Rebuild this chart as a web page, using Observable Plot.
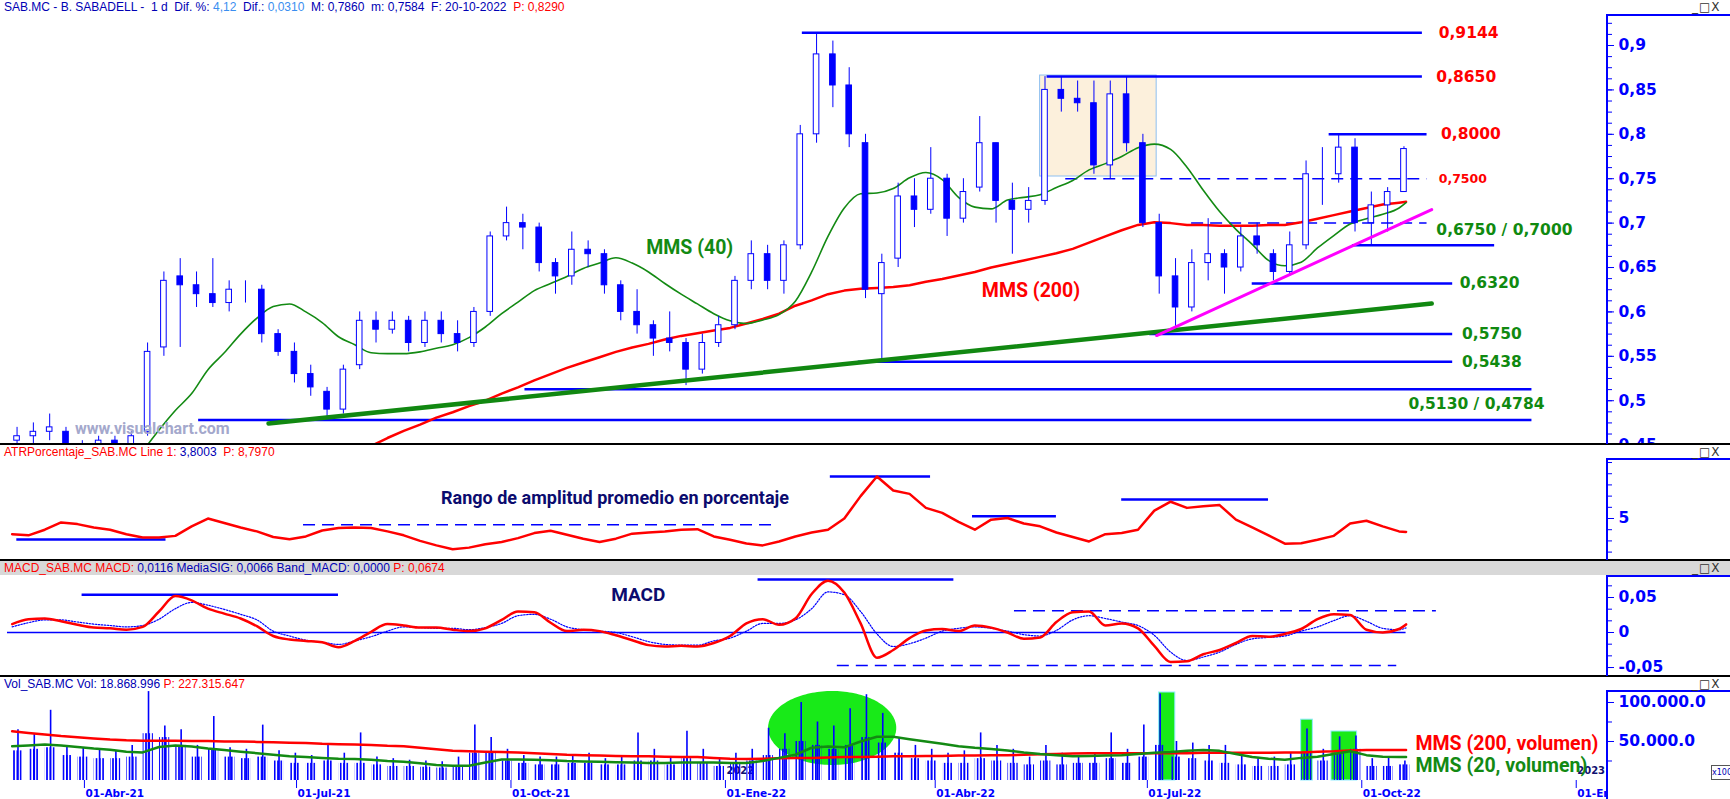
<!DOCTYPE html>
<html><head><meta charset="utf-8">
<script src="https://cdn.jsdelivr.net/npm/d3@7"></script>
<script src="https://cdn.jsdelivr.net/npm/@observablehq/plot@0.6"></script>
<style>
html,body{margin:0;padding:0;background:#fff;}
#wrap{position:relative;width:1730px;height:799px;overflow:hidden;background:#fff;}
.panel{position:absolute;left:0;width:1730px;}
.panel svg{display:block;}
.ov{position:absolute;z-index:5;}
.sep{left:0;width:1730px;height:2px;background:#000;}
.vax{left:1606px;width:2px;background:#0000ff;}
.hax{left:1606px;width:124px;height:2px;background:#0000ff;}
.hdr{left:4px;font:12px "Liberation Sans",Arial,sans-serif;white-space:pre;line-height:13px;}
.win{left:1692px;font:12px "DejaVu Sans",sans-serif;color:#333;letter-spacing:1px;line-height:12px;}
.nb{color:#0000b4}.lb{color:#3a8ef0}.rd{color:#ff0000}
</style></head><body>
<div id="wrap">
 <div id="p1" class="panel" style="top:0"></div>
 <div id="p2" class="panel" style="top:444px"></div>
 <div id="p3" class="panel" style="top:560px"></div>
 <div id="p4" class="panel" style="top:676px"></div>
 <div class="ov" style="left:0;top:561px;width:1730px;height:14px;background:#d8d8d8"></div>
 <div class="ov sep" style="top:443px"></div>
 <div class="ov sep" style="top:559px"></div>
 <div class="ov sep" style="top:675px"></div>
 <div class="ov vax" style="top:15px;height:429px"></div>
 <div class="ov hax" style="top:14px"></div>
 <div class="ov vax" style="top:459px;height:101px"></div>
 <div class="ov hax" style="top:458px"></div>
 <div class="ov vax" style="top:576px;height:100px"></div>
 <div class="ov hax" style="top:575px"></div>
 <div class="ov vax" style="top:691px;height:108px"></div>
 <div class="ov hax" style="top:690px"></div>
 <div class="ov hdr" style="top:1px"><span class="nb">SAB.MC - B. SABADELL -  1 d  Dif. %: </span><span class="lb">4,12</span><span class="nb">  Dif.: </span><span class="lb">0,0310</span><span class="nb">  M: 0,7860  m: 0,7584  F: 20-10-2022  </span><span class="rd">P: 0,8290</span></div>
 <div class="ov hdr" style="top:446px"><span class="rd">ATRPorcentaje_SAB.MC Line 1: </span><span class="nb">3,8003</span><span class="rd">  P: 8,7970</span></div>
 <div class="ov hdr" style="top:562px"><span class="rd">MACD_SAB.MC MACD: </span><span class="nb">0,0116 MediaSIG: 0,0066 Band_MACD: 0,0000 </span><span class="rd">P: 0,0674</span></div>
 <div class="ov hdr" style="top:678px"><span class="nb">Vol_SAB.MC Vol: 18.868.996 </span><span class="rd">P: 227.315.647</span></div>
 <div class="ov win" style="top:1px">_□X</div>
 <div class="ov win" style="top:446px">_□X</div>
 <div class="ov win" style="top:562px">_□X</div>
 <div class="ov win" style="top:678px">_□X</div>
 <div class="ov" style="left:1711px;top:765px;width:18px;height:13px;border:1px solid #555;font:8px 'DejaVu Sans',sans-serif;color:#0000b4;line-height:13px;text-align:center;background:#fff">x100</div>
</div>
<script>
// ---------------- DATA ----------------
const weeks = d3.utcMonday.range(new Date("2021-03-01T00:00Z"), new Date("2022-10-18T00:00Z")); // 86 weekly candles
const lastDay = new Date("2022-10-20T00:00Z");
const lineDates = [...weeks, lastDay];

const openP = [.455,.46,.465,.465,.445,.45,.455,.45,.465,.56,
 .64,.63,.62,.61,.625,.625,.575,.555,.53,.51,
 .49,.54,.59,.58,.59,.565,.59,.575,.565,.60,
 .685,.70,.695,.655,.64,.67,.665,.63,.60,.585,
 .57,.565,.535,.565,.585,.635,.665,.635,.675,.80,
 .89,.855,.79,.62,.66,.73,.715,.75,.705,.74,
 .79,.725,.715,.725,.85,.84,.835,.765,.845,.79,
 .70,.64,.605,.655,.665,.65,.685,.665,.645,.675,
 .755,.755,.785,.70,.72,.735];
const highP = [.47,.475,.485,.47,.455,.46,.46,.465,.565,.645,
 .66,.645,.66,.635,.635,.63,.58,.565,.54,.515,
 .54,.60,.60,.60,.595,.60,.60,.59,.605,.69,
 .718,.71,.70,.66,.69,.68,.67,.635,.625,.59,
 .60,.57,.575,.595,.64,.68,.675,.68,.81,.914,
 .905,.875,.80,.665,.745,.75,.785,.755,.75,.82,
 .79,.745,.74,.865,.865,.86,.86,.86,.865,.80,
 .71,.66,.67,.705,.67,.695,.70,.67,.69,.77,
 .785,.80,.795,.735,.74,.786];
const lowP = [.445,.45,.455,.44,.435,.44,.445,.445,.46,.55,
 .56,.605,.605,.60,.61,.565,.55,.52,.505,.482,
 .485,.535,.565,.575,.555,.56,.565,.555,.56,.595,
 .68,.67,.645,.62,.63,.65,.62,.59,.575,.55,
 .555,.517,.53,.56,.58,.625,.625,.62,.67,.79,
 .83,.785,.615,.545,.65,.695,.71,.685,.70,.735,
 .70,.665,.70,.72,.825,.825,.755,.75,.78,.695,
 .62,.578,.60,.635,.62,.645,.665,.635,.64,.67,
 .72,.745,.69,.675,.69,.7584];
const closeP = [.46,.465,.47,.445,.45,.455,.45,.46,.555,.635,
 .63,.62,.61,.625,.625,.575,.555,.53,.515,.49,
 .535,.59,.58,.59,.565,.59,.575,.565,.60,.685,
 .70,.695,.655,.64,.67,.665,.63,.60,.585,.57,
 .565,.535,.565,.585,.635,.665,.635,.675,.80,.89,
 .855,.80,.625,.655,.73,.715,.75,.705,.735,.79,
 .725,.715,.725,.85,.84,.835,.765,.845,.79,.70,
 .64,.605,.655,.665,.65,.685,.675,.645,.675,.755,
 .755,.785,.70,.72,.735,.7834];

const N = null;
const mms40 = [N,N,N,N,N,N,N,N,.443,.467,
 .489,.508,.535,.554,.575,.593,.606,.609,.600,.588,
 .572,.563,.554,.553,.553,.555,.559,.563,.571,.583,
 .598,.611,.624,.632,.640,.649,.655,.661,.655,.645,
 .632,.620,.609,.598,.590,.587,.591,.597,.612,.645,
 .685,.717,.733,.734,.739,.751,.757,.749,.729,.718,
 .716,.726,.729,.732,.740,.748,.760,.767,.775,.785,
 .789,.783,.763,.737,.713,.693,.676,.658,.652,.656,
 .672,.686,.699,.705,.710,.717,.723];
const mms200 = [N,N,N,N,N,N,N,N,N,N,
 N,N,N,N,N,N,N,N,N,N,
 N,.442,.449,.458,.466,.473,.481,.487,.494,.500,
 .508,.515,.523,.530,.537,.543,.549,.555,.560,.564,
 .569,.573,.576,.579,.582,.587,.592,.598,.607,.613,
 .620,.624,.626,.627,.628,.630,.634,.637,.641,.645,
 .650,.654,.658,.662,.666,.671,.678,.685,.692,.698,
 .701,.700,.698,.698,.697,.697,.697,.698,.698,.701,
 .705,.709,.713,.717,.721,.723,.724];
const atrPct = [3.6,3.5,4.0,4.65,4.5,4.2,4.0,3.6,3.3,3.3,
 3.45,4.3,5.0,4.6,4.2,3.85,3.35,3.15,3.4,3.93,
 4.15,4.2,4.15,3.85,3.5,3.0,2.6,2.25,2.4,2.7,
 2.9,3.25,3.7,3.9,3.55,3.2,2.9,3.2,3.65,3.75,
 3.85,4.0,4.05,3.4,3.1,2.77,2.6,2.95,3.4,3.75,
 4.0,5.0,7.0,8.75,7.5,7.2,5.95,5.5,4.7,4.0,
 4.9,5.05,4.55,4.3,3.75,3.35,2.95,3.6,3.7,4.0,
 5.7,6.5,5.95,6.1,6.2,4.9,4.2,3.5,2.75,2.8,
 3.1,3.45,4.55,4.8,4.3,3.85,3.8];
const macdVals = [.012,.019,.020,.016,.011,.007,.006,.004,.008,.030,
 .052,.046,.034,.027,.020,.009,-.005,-.010,-.012,-.014,
 -.021,-.012,.001,.012,.010,.007,.007,.004,.002,.006,
 .018,.030,.029,.014,.002,.004,.002,-.004,-.011,-.018,
 -.020,-.019,-.020,-.015,-.005,.013,.019,.011,.020,.055,
 .074,.057,.013,-.036,-.025,-.008,.003,.005,.002,.010,
 .007,.000,-.009,-.007,.015,.029,.030,.010,.013,.006,
 -.019,-.042,-.041,-.031,-.025,-.015,-.005,-.006,-.002,.005,
 .019,.026,.025,.004,.000,.005,.0116];
const macdSignal = [.008,.014,.018,.018,.015,.012,.010,.008,.010,.019,
 .034,.043,.039,.033,.026,.018,.002,-.005,-.011,-.014,
 -.017,-.012,-.006,.002,.008,.007,.006,.006,.004,.007,
 .013,.024,.026,.019,.008,.004,.002,.000,-.006,-.013,
 -.017,-.018,-.018,-.012,-.008,.002,.013,.013,.018,.034,
 .058,.054,.030,-.002,-.020,-.016,-.008,.002,.006,.008,
 .006,.002,-.003,-.005,.003,.018,.024,.020,.015,.010,
 -.004,-.028,-.040,-.035,-.028,-.017,-.009,-.007,-.005,.002,
 .008,.017,.024,.016,.006,.004,.0066];
// volume in thousands (axis unit 100.000.0 = 100)
const volTypical = [38,40,42,32,30,28,28,30,60,55,
 45,30,40,30,28,30,25,22,22,25,
 22,22,20,18,18,17,16,18,35,35,
 25,22,20,20,22,22,20,20,25,25,
 20,28,22,18,22,25,32,40,50,45,
 40,45,55,48,35,28,25,22,22,28,
 25,22,20,25,20,22,22,28,22,30,
 45,30,28,25,22,20,18,18,20,35,
 25,35,40,18,18,20];
const volPeak = [65,60,90,45,42,40,38,45,114,70,
 65,45,82,42,40,71,38,35,32,45,
 35,61,30,28,26,25,24,30,71,55,
 40,32,30,30,32,35,28,30,61,40,
 30,63,40,28,35,40,67,60,100,75,
 70,92,110,86,55,45,40,35,38,61,
 45,40,30,45,35,32,35,61,40,71,
 111,50,48,45,45,32,28,30,35,66,
 40,56,57,28,30,25];
const volMA200 = [63,61,59,57,55.5,54,52.5,51.5,51,51,
 51,50.5,50.5,50,50,49.5,49,48.5,48,47,
 46.5,46,45.5,44.5,44,42,40,38,37.5,37,
 36.5,36,35,34,33,32.5,32,31.5,31,31,
 30.5,30,30,29,28,27.5,28,28.5,29,29,
 29.5,30,30,30.5,31,31,31.5,31.5,32,32,
 32.5,32.5,33,33.5,34,34.5,35,35,35,35,
 35,35,35,35.5,35.5,35.5,35.5,35.5,36,36,
 37,37.5,38.5,39,39,39,39];
const volMA20 = [44,45,46,45,43,41,39.5,37,36,43,
 45,43.5,41,39,37,35,33,31,30,29,
 28,27.5,26.5,25,24,22,20,19,19,23,
 27,27,26.5,26,25,24.5,24,23.5,23,22.5,
 22.5,23,23,23,22.5,22.5,25,29,33,42,
 43.5,42.5,50,56,56,53,50,47,44,42,
 40.5,38.5,36,34,32.5,31,31.5,32,32.5,34,
 35.5,36.5,38,39,38,34,30,28,26.5,29,
 30.5,34,37.5,32.5,30.5,30,30];

// support / resistance levels
const levelVals   = [0.9144,0.8650,0.8000,0.7500,0.7000,0.6750,0.6320,0.5750,0.5438,0.5130,0.4784];
const levelFrom   = ["2022-02-03","2022-05-19","2022-09-17","2022-05-27","2022-07-20","2022-09-27","2022-08-15","2022-07-02","2022-02-27","2021-10-07","2021-05-20"];
const levelTo     = ["2022-10-27","2022-10-27","2022-10-29","2022-10-29","2022-10-29","2022-11-27","2022-11-09","2022-11-09","2022-11-09","2022-12-13","2022-12-13"];
const levelDashed = [false,false,false,true,true,false,false,false,false,false,false];
const levelLabelText  = ["0,9144","0,8650","0,8000","0,7500","0,6750 / 0,7000","0,6320","0,5750","0,5438","0,5130 / 0,4784"];
const levelLabelValue = [0.9144,0.8650,0.8000,0.7500,0.6917,0.6330,0.5750,0.5438,0.4968];
const levelLabelDate  = ["2022-11-03","2022-11-02","2022-11-04","2022-11-03","2022-11-02","2022-11-12","2022-11-13","2022-11-13","2022-10-21"];
const levelLabelColor = ["#ff0000","#ff0000","#ff0000","#ff0000","#108a10","#108a10","#108a10","#108a10","#108a10"];
const levelLabelSmall = [false,false,false,true,false,false,false,false,false];

const greenTrend   = {dates:["2021-06-19","2022-10-31"], values:[0.4743,0.6095]};
const magentaTrend = {dates:["2022-07-05","2022-10-31"], values:[0.5734,0.7153]};
const shadedBox = {from:"2022-05-16", to:"2022-07-05", lo:0.7525, hi:0.8662};

const atrLevelVal  = [3.13,4.45,8.75,5.2,6.7];
const atrLevelFrom = ["2021-03-03","2021-07-04","2022-02-15","2022-04-17","2022-06-20"];
const atrLevelTo   = ["2021-05-06","2022-01-22","2022-03-30","2022-05-23","2022-08-22"];
const atrLevelDash = [false,true,false,false,false];

const macdLevelVal  = [0.054,0.0757,0.031,-0.047];
const macdLevelFrom = ["2021-03-31","2022-01-15","2022-05-05","2022-02-18"];
const macdLevelTo   = ["2021-07-19","2022-04-09","2022-11-02","2022-10-16"];
const macdLevelDash = [false,false,true,true];
const macdZero = {from:"2021-02-27", to:"2022-10-20"};

const volEllipse = {cx:"2022-02-16", rxDays:27.5, cy:66.7, ry:47.4};
const volBoxFrom = ["2022-07-06","2022-09-05","2022-09-18"];
const volBoxTo   = ["2022-07-13","2022-09-10","2022-09-29"];
const volBoxTop  = [112.8,78,62.8];

const xTickDates  = ["2021-04-01","2021-07-01","2021-10-01","2022-01-01","2022-04-01","2022-07-01","2022-10-01","2023-01-01"];
const xTickLabels = ["01-Abr-21","01-Jul-21","01-Oct-21","01-Ene-22","01-Abr-22","01-Jul-22","01-Oct-22","01-Ene-23"];
const yearDates = ["2022-01-01","2023-01-01"];
const yearLabels = ["2022","2023"];

const mainTicks = [0.45,0.5,0.55,0.6,0.65,0.7,0.75,0.8,0.85,0.9];
const atrTicks = [5];
const macdTicks = [-0.05,0,0.05];
const volTicks = [50,100];

// ---------------- BUILD ----------------
const DAY = 864e5;
const D = s => new Date(s + "T00:00Z");
const off = (d,k) => new Date(+d + k*DAY);
const fmtDec = d => String(+(+d).toFixed(4)).replace(".", ",");
const fmtVol = d => d3.format(",")(d*1000).replace(/,/g,".") + ".0";

const rows = lineDates.map((d,i)=>({date:d, mms40:mms40[i], mms200:mms200[i], atr:atrPct[i], macd:macdVals[i], sig:macdSignal[i], vma200:volMA200[i], vma20:volMA20[i]}));
const candles = weeks.map((d,i)=>({date:d, o:openP[i], h:highP[i], l:lowP[i], c:closeP[i]}));
const vols = weeks.map((d,i)=>({date:d, typ:volTypical[i], peak:volPeak[i]}));
const levels = levelVals.map((v,i)=>({v, from:D(levelFrom[i]), to:D(levelTo[i]), dashed:levelDashed[i]}));
const lvlLabels = levelLabelText.map((t,i)=>({t, v:levelLabelValue[i], date:D(levelLabelDate[i]), c:levelLabelColor[i], small:levelLabelSmall[i]}));
const gT = greenTrend.dates.map((d,i)=>({date:D(d), v:greenTrend.values[i]}));
const mT = magentaTrend.dates.map((d,i)=>({date:D(d), v:magentaTrend.values[i]}));
const atrLv = atrLevelVal.map((v,i)=>({v, from:D(atrLevelFrom[i]), to:D(atrLevelTo[i]), dashed:atrLevelDash[i]}));
const macdLv = macdLevelVal.map((v,i)=>({v, from:D(macdLevelFrom[i]), to:D(macdLevelTo[i]), dashed:macdLevelDash[i]}));
const xTicks = xTickDates.map((d,i)=>({date:D(d), label:xTickLabels[i]}));
const yTicksYear = yearDates.map((d,i)=>({date:D(d), label:yearLabels[i]}));
const volBoxes = volBoxFrom.map((d,i)=>({from:D(d), to:D(volBoxTo[i]), top:volBoxTop[i]}));
const ell = d3.range(0,81).map(k=>{const th=Math.PI*(1-k/80); const u=Math.cos(th); const h=volEllipse.ry*Math.sin(th);
  return {x:off(D(volEllipse.cx), u*volEllipse.rxDays), y1:volEllipse.cy-h, y2:volEllipse.cy+h};});

const xDomain = [new Date("2021-02-24T00:00Z"), new Date("2023-01-14T10:00Z")];
const base = extra => Object.assign({
  width:1730, marginLeft:0, marginRight:123,
  x:{type:"utc", domain:xDomain, axis:null, label:null},
  color:{type:"identity"},
  style:{fontFamily:"DejaVu Sans", background:"white"}
}, extra);
const BLUE = "#0000ff", RED = "#ff0000", GREEN = "#138a13", NAVY = "#0b0b6e";
const axisText = {anchor:"right", tickSize:6, tickPadding:5, color:BLUE, fontSize:15.5, fontWeight:"bold", fontFamily:"DejaVu Sans", label:null};
const minorAxis = {anchor:"right", tickSize:4, tickFormat:()=>"", color:BLUE, label:null};
const bigLabel = {textAnchor:"start", fontFamily:"Roboto", fontWeight:"bold", fontSize:19.5};

// Main price panel
const mainSvg = Plot.plot(base({
  height:444, marginTop:15, marginBottom:0,
  y:{domain:[0.4507,0.9338], axis:null, label:null},
  marks:[
    Plot.rect([shadedBox], {x1:d=>D(d.from), x2:d=>D(d.to), y1:"lo", y2:"hi", fill:"#fcf0dc", stroke:"#8dbff0", strokeWidth:1}),
    Plot.ruleY(levels.filter(d=>!d.dashed), {y:"v", x1:"from", x2:"to", stroke:BLUE, strokeWidth:2.5}),
    Plot.ruleY(levels.filter(d=>d.dashed), {y:"v", x1:"from", x2:"to", stroke:BLUE, strokeWidth:1.5, strokeDasharray:"12,7"}),
    Plot.line(rows, {x:"date", y:"mms200", stroke:RED, strokeWidth:2.5, clip:true}),
    Plot.line(rows, {x:"date", y:"mms40", stroke:GREEN, strokeWidth:1.6, clip:true, curve:"monotone-x"}),
    Plot.ruleX(candles, {x:d=>off(d.date,2.1), y1:"l", y2:"h", stroke:BLUE, strokeWidth:1, clip:true}),
    Plot.rect(candles, {x1:d=>off(d.date,0.9), x2:d=>off(d.date,3.3), y1:d=>Math.min(d.o,d.c), y2:d=>Math.max(d.o,d.c),
      fill:d=>d.c>=d.o?"#ffffff":BLUE, stroke:BLUE, strokeWidth:1, clip:true}),
    Plot.line(gT, {x:"date", y:"v", stroke:"#118811", strokeWidth:4.5}),
    Plot.line(mT, {x:"date", y:"v", stroke:"#ff00ff", strokeWidth:3}),
    Plot.text(lvlLabels.filter(d=>!d.small), {x:"date", y:"v", text:"t", fill:"c", textAnchor:"start", fontWeight:"bold", fontSize:15.5, fontFamily:"DejaVu Sans"}),
    Plot.text(lvlLabels.filter(d=>d.small), {x:"date", y:"v", text:"t", fill:"c", textAnchor:"start", fontWeight:"bold", fontSize:12.5, fontFamily:"DejaVu Sans"}),
    Plot.text([{d:D("2021-11-28"), v:0.6725, t:"MMS (40)"}], {x:"d", y:"v", text:"t", fill:GREEN, ...bigLabel}),
    Plot.text([{d:D("2022-04-21"), v:0.624, t:"MMS (200)"}], {x:"d", y:"v", text:"t", fill:RED, ...bigLabel}),
    Plot.text([{d:D("2021-03-28"), v:0.4687, t:"www.visualchart.com"}], {x:"d", y:"v", text:"t", fill:"#a4a8cc", textAnchor:"start", fontFamily:"Roboto", fontWeight:"bold", fontSize:16}),
    Plot.axisY(d3.range(0.45,0.935,0.0125), minorAxis),
    Plot.axisY(mainTicks, {...axisText, tickFormat:fmtDec})
  ]
}));
document.getElementById("p1").appendChild(mainSvg);

// ATR panel
const atrSvg = Plot.plot(base({
  height:116, marginTop:15, marginBottom:1,
  y:{domain:[1.34,10.27], axis:null, label:null},
  marks:[
    Plot.ruleY(atrLv.filter(d=>!d.dashed), {y:"v", x1:"from", x2:"to", stroke:BLUE, strokeWidth:2.5}),
    Plot.ruleY(atrLv.filter(d=>d.dashed), {y:"v", x1:"from", x2:"to", stroke:BLUE, strokeWidth:1.5, strokeDasharray:"12,7"}),
    Plot.line(rows, {x:"date", y:"atr", stroke:RED, strokeWidth:2.5}),
    Plot.text([{d:D("2021-09-01"), v:6.79, t:"Rango de amplitud promedio en porcentaje"}], {x:"d", y:"v", text:"t", fill:NAVY, textAnchor:"start", fontFamily:"Roboto", fontWeight:"bold", fontSize:18}),
    Plot.axisY(d3.range(2,11,1), minorAxis),
    Plot.axisY(atrTicks, {...axisText, tickFormat:fmtDec})
  ]
}));
document.getElementById("p2").appendChild(atrSvg);

// MACD panel
const macdSvg = Plot.plot(base({
  height:116, marginTop:16, marginBottom:1,
  y:{domain:[-0.0614,0.08], axis:null, label:null},
  marks:[
    Plot.ruleY([macdZero], {y:0, x1:d=>D(d.from), x2:d=>D(d.to), stroke:BLUE, strokeWidth:1.3}),
    Plot.ruleY(macdLv.filter(d=>!d.dashed), {y:"v", x1:"from", x2:"to", stroke:BLUE, strokeWidth:2.5}),
    Plot.ruleY(macdLv.filter(d=>d.dashed), {y:"v", x1:"from", x2:"to", stroke:BLUE, strokeWidth:1.5, strokeDasharray:"12,7"}),
    Plot.line(rows, {x:"date", y:"sig", stroke:BLUE, strokeWidth:1.2, strokeDasharray:"1.5,1.5", curve:"monotone-x"}),
    Plot.line(rows, {x:"date", y:"macd", stroke:RED, strokeWidth:2.5, curve:"monotone-x"}),
    Plot.text([{d:D("2021-11-13"), v:0.053, t:"MACD"}], {x:"d", y:"v", text:"t", fill:NAVY, textAnchor:"start", fontFamily:"Roboto", fontWeight:"bold", fontSize:19}),
    Plot.axisY(d3.range(-0.05,0.0801,0.05/3), minorAxis),
    Plot.axisY(macdTicks, {...axisText, tickFormat:fmtDec})
  ]
}));
document.getElementById("p3").appendChild(macdSvg);

// Volume panel
const volSvg = Plot.plot(base({
  height:123, marginTop:15, marginBottom:0,
  y:{domain:[-24.36,114.1], axis:null, label:null},
  marks:[
    Plot.areaY(ell, {x:"x", y1:"y1", y2:"y2", fill:"#18ea18", curve:"linear"}),
    Plot.rect(volBoxes, {x1:"from", x2:"to", y1:0, y2:"top", fill:"#18ea18", stroke:"#8feaff", strokeWidth:1}),
    Plot.text(yTicksYear, {x:"date", text:"label", frameAnchor:"bottom", lineAnchor:"middle", dy:-29, dx:1, textAnchor:"start", fill:"#101070", fontWeight:"bold", fontSize:10, clip:true}),
    Plot.rect(vols, {x1:d=>off(d.date,0.2), x2:d=>off(d.date,4.6), y1:0, y2:"typ", fill:"url(#vstripes)", clip:true}),
    Plot.ruleX(vols, {x:d=>off(d.date,2.5), y1:0, y2:"peak", stroke:BLUE, strokeWidth:1.6, clip:true}),
    Plot.line(rows, {x:"date", y:"vma200", stroke:RED, strokeWidth:2.5}),
    Plot.line(rows, {x:"date", y:"vma20", stroke:GREEN, strokeWidth:2.5}),
    Plot.ruleX(xTicks, {x:"date", stroke:BLUE, strokeWidth:1, insetTop:89, insetBottom:11, clip:true}),
    Plot.text(xTicks, {x:"date", text:"label", frameAnchor:"bottom", lineAnchor:"middle", dy:-6, dx:1, textAnchor:"start", fill:BLUE, fontWeight:"bold", fontSize:10.5, fontFamily:"DejaVu Sans", clip:true}),
    Plot.text([{d:D("2022-10-24"), v:47.4, t:"MMS (200, volumen)"}], {x:"d", y:"v", text:"t", fill:RED, ...bigLabel}),
    Plot.text([{d:D("2022-10-24"), v:19.2, t:"MMS (20, volumen)"}], {x:"d", y:"v", text:"t", fill:GREEN, ...bigLabel}),
    Plot.axisY([25,75], minorAxis),
    Plot.axisY(volTicks, {...axisText, tickFormat:fmtVol})
  ]
}));
const ns = "http://www.w3.org/2000/svg";
const defs = document.createElementNS(ns, "defs");
const pat = document.createElementNS(ns, "pattern");
pat.setAttribute("id","vstripes"); pat.setAttribute("patternUnits","userSpaceOnUse");
pat.setAttribute("width","3.3"); pat.setAttribute("height","10");
const pr = document.createElementNS(ns, "rect");
pr.setAttribute("x","0"); pr.setAttribute("y","0"); pr.setAttribute("width","1.6"); pr.setAttribute("height","10"); pr.setAttribute("fill",BLUE);
pat.appendChild(pr); defs.appendChild(pat);
volSvg.insertBefore(defs, volSvg.firstChild);
document.getElementById("p4").appendChild(volSvg);
</script>
</body></html>
